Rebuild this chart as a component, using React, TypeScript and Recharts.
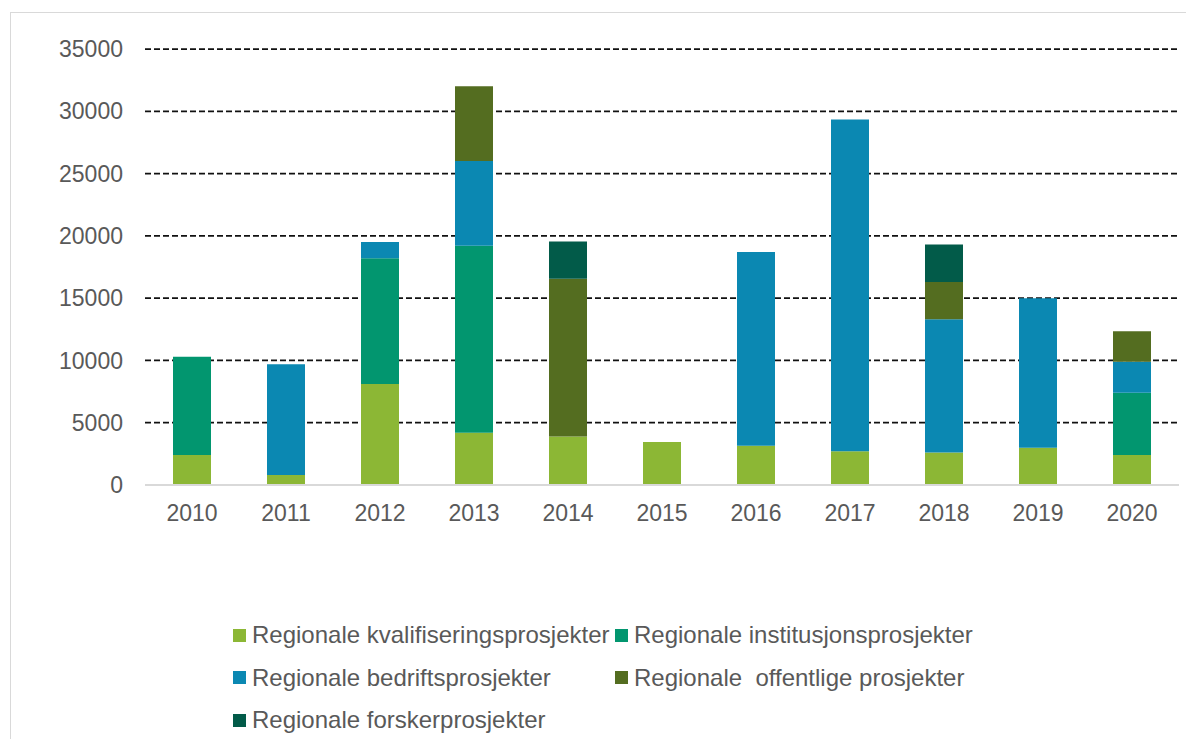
import { BarChart, Bar, XAxis, YAxis, CartesianGrid, Legend } from 'recharts'

const years = ['2010', '2011', '2012', '2013', '2014', '2015', '2016', '2017', '2018', '2019', '2020']

const kvalifisering = [2400, 800, 8100, 4200, 3900, 3450, 3150, 2700, 2600, 3000, 2400]
const institusjon = [7900, 0, 10100, 15000, 0, 0, 0, 0, 0, 0, 5000]
const bedrift = [0, 8900, 1300, 6800, 0, 0, 15550, 26650, 10700, 12000, 2500]
const offentlige = [0, 0, 0, 6000, 12650, 0, 0, 0, 3000, 0, 2450]
const forsker = [0, 0, 0, 0, 3000, 0, 0, 0, 3000, 0, 0]

const yTicks = [0, 5000, 10000, 15000, 20000, 25000, 30000, 35000]

const series = [
  { key: 'kval', name: 'Regionale kvalifiseringsprosjekter', color: '#8cb735', values: kvalifisering },
  { key: 'inst', name: 'Regionale institusjonsprosjekter', color: '#02966f', values: institusjon },
  { key: 'bedr', name: 'Regionale bedriftsprosjekter', color: '#0b88b2', values: bedrift },
  { key: 'off', name: 'Regionale  offentlige prosjekter', color: '#546d20', values: offentlige },
  { key: 'fors', name: 'Regionale forskerprosjekter', color: '#025b49', values: forsker },
]

const chartData = years.map((year, i) => {
  const row: Record<string, string | number> = { year }
  series.forEach((s) => {
    row[s.key] = s.values[i]
  })
  return row
})

const font = '"Liberation Sans", Arial, sans-serif'
const textColor = '#595959'

// legend drawn as two columns like the Excel original
function LegendBox() {
  return (
    <div
      style={{
        display: 'grid',
        gridTemplateColumns: '382px 370px',
        gridAutoRows: '42.5px',
        fontFamily: font,
        fontSize: 24,
        color: textColor,
      }}
    >
      {series.map((s) => (
        <div key={s.key} style={{ display: 'flex', alignItems: 'center', whiteSpace: 'pre' }}>
          <span style={{ width: 13, height: 13, background: s.color, marginRight: 6, display: 'inline-block' }} />
          <span>{s.name}</span>
        </div>
      ))}
    </div>
  )
}

export default function App() {
  return (
    <div style={{ position: 'relative', margin: -8, width: 1194, height: 747, overflow: 'hidden', background: '#fff' }}>
      <div
        style={{
          position: 'absolute',
          left: 8,
          top: -24,
          fontFamily: font,
          fontSize: 28,
          lineHeight: '28px',
          color: '#000',
          whiteSpace: 'pre',
        }}
      >
        Figur 5 Tildelte midler fordelt på prosjekttype
      </div>
      <div
        style={{
          position: 'absolute',
          left: 10,
          top: 12,
          width: 1200,
          height: 760,
          borderLeft: '1.5px solid #d9d9d9',
          borderTop: '1.5px solid #d9d9d9',
        }}
      />
      <div style={{ position: 'absolute', left: 0, top: 0 }}>
        <BarChart
          width={1194}
          height={747}
          data={chartData}
          margin={{ top: 49, right: 15, bottom: 232, left: 0 }}
          barSize={38}
        >
          <CartesianGrid
            vertical={false}
            horizontalValues={[5000, 10000, 15000, 20000, 25000, 30000, 35000]}
            stroke="#111"
            strokeWidth={1.75}
            strokeDasharray="6 3"
          />
          <XAxis
            dataKey="year"
            height={30}
            tickLine={false}
            tickSize={0}
            tickMargin={20}
            axisLine={{ stroke: '#d9d9d9', strokeWidth: 2 }}
            tick={{ fill: textColor, fontSize: 23, fontFamily: font }}
            interval={0}
          />
          <YAxis
            width={145}
            domain={[0, 35000]}
            ticks={yTicks}
            tickLine={false}
            tickSize={0}
            tickMargin={22}
            axisLine={false}
            tick={{ fill: textColor, fontSize: 23, fontFamily: font }}
          />
          {series.map((s) => (
            <Bar key={s.key} dataKey={s.key} name={s.name} stackId="a" fill={s.color} isAnimationActive={false} />
          ))}
          <Legend
            layout="horizontal"
            verticalAlign="middle"
            align="center"
            content={() => <LegendBox />}
            wrapperStyle={{ left: 233, top: 614, width: 760 }}
          />
        </BarChart>
      </div>
    </div>
  )
}
